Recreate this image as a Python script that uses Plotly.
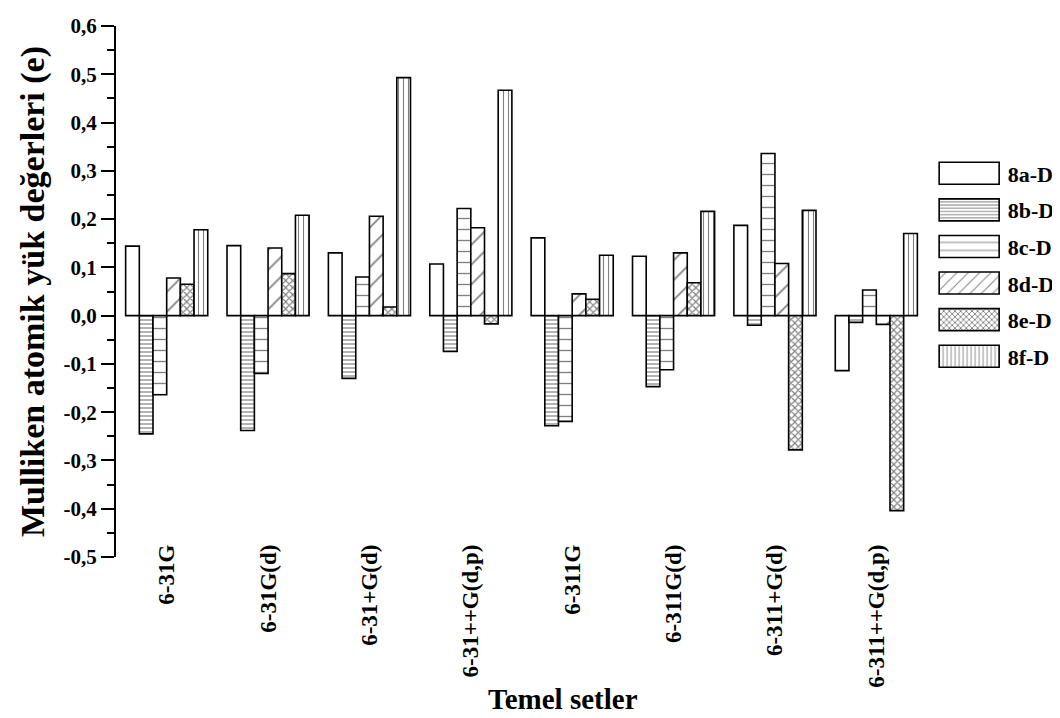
import plotly.graph_objects as go

categories = ["6-31G", "6-31G(d)", "6-31+G(d)", "6-31++G(d,p)",
              "6-311G", "6-311G(d)", "6-311+G(d)", "6-311++G(d,p)"]

series_names = ["8a-D", "8b-D", "8c-D", "8d-D", "8e-D", "8f-D"]

v8a = [0.144, 0.145, 0.130, 0.107, 0.161, 0.123, 0.187, -0.114]
v8b = [-0.245, -0.238, -0.130, -0.074, -0.228, -0.147, -0.020, -0.014]
v8c = [-0.164, -0.120, 0.080, 0.222, -0.219, -0.112, 0.336, 0.053]
v8d = [0.078, 0.140, 0.206, 0.182, 0.045, 0.130, 0.108, -0.018]
v8e = [0.065, 0.087, 0.018, -0.017, 0.034, 0.068, -0.278, -0.404]
v8f = [0.178, 0.208, 0.493, 0.467, 0.125, 0.216, 0.218, 0.170]

y_tick_vals = [-0.5, -0.4, -0.3, -0.2, -0.1, 0.0, 0.1, 0.2, 0.3, 0.4, 0.5, 0.6]
y_tick_text = ["-0,5", "-0,4", "-0,3", "-0,2", "-0,1", "0,0",
               "0,1", "0,2", "0,3", "0,4", "0,5", "0,6"]

y_title = "Mulliken atomik yük değerleri (e)"
x_title = "Temel setler"

series_values = [v8a, v8b, v8c, v8d, v8e, v8f]
patterns = [
    dict(shape=""),
    dict(shape="-", size=4, solidity=0.3, fgcolor="black", bgcolor="white"),
    dict(shape="-", size=11, solidity=0.12, fgcolor="black", bgcolor="white"),
    dict(shape="/", size=14, solidity=0.12, fgcolor="black", bgcolor="white"),
    dict(shape="x", size=5, solidity=0.4, fgcolor="black", bgcolor="white"),
    dict(shape="|", size=5, solidity=0.22, fgcolor="black", bgcolor="white"),
]

FONT = "Liberation Serif, Times New Roman, serif"
y_range = [-0.5, 0.6]
zero_pos = (0 - y_range[0]) / (y_range[1] - y_range[0])

fig = go.Figure()
for name, vals, pat in zip(series_names, series_values, patterns):
    fig.add_trace(go.Bar(
        x=categories, y=vals, name=name, legendgroup=name,
        marker=dict(color="white", line=dict(color="black", width=1.6),
                    pattern=pat),
    ))

fig.update_layout(
    width=1060, height=718,
    margin=dict(l=108, r=141, t=18, b=169, autoexpand=False),
    paper_bgcolor="white", plot_bgcolor="white",
    barmode="group", bargap=0.19, bargroupgap=0,
    font=dict(family=FONT, color="black", size=20, weight="bold"),
    showlegend=True,
    legend=dict(x=1.0045, xanchor="left", y=0.55, yanchor="middle",
                font=dict(family=FONT, size=22, weight="bold"),
                itemwidth=67, tracegroupgap=5, bgcolor="rgba(0,0,0,0)"),
    xaxis=dict(
        type="category", categoryarray=categories, range=[-0.5, 7.5],
        showline=False, ticks="", showgrid=False, zeroline=False,
        tickangle=-90, tickfont=dict(family=FONT, size=23, weight="bold"),
        ticklabelstandoff=-18,
        automargin=False,
    ),
    xaxis2=dict(
        overlaying="x", anchor="free", position=zero_pos, type="linear",
        range=[-0.5, 7.5], showline=True, linecolor="black", linewidth=2,
        ticks="outside", ticklen=11, tickwidth=2, tickcolor="black",
        tick0=0, dtick=1, showticklabels=False, showgrid=False, zeroline=False,
        minor=dict(ticks="outside", ticklen=6, tickwidth=2, tickcolor="black",
                   tick0=0.5, dtick=1, showgrid=False),
    ),
    yaxis=dict(
        range=y_range, tickvals=y_tick_vals, ticktext=y_tick_text,
        showline=True, linecolor="black", linewidth=2,
        ticks="outside", ticklen=13, tickwidth=2, tickcolor="black",
        minor=dict(ticks="outside", ticklen=7, tickwidth=2, tickcolor="black",
                   dtick=0.05, showgrid=False),
        showgrid=False, zeroline=False,
        tickfont=dict(family=FONT, size=21, weight="bold"),
        title=dict(text=y_title, font=dict(family=FONT, size=34, weight="bold"),
                   standoff=9),
        automargin=False,
    ),
    yaxis2=dict(
        overlaying="y", side="right", anchor="x", range=y_range,
        showline=True, linecolor="black", linewidth=2,
        ticks="inside", ticklen=12, tickwidth=2, tickcolor="black",
        tickvals=y_tick_vals, showticklabels=False,
        minor=dict(ticks="inside", ticklen=6, tickwidth=2, tickcolor="black",
                   dtick=0.05, showgrid=False),
        showgrid=False, zeroline=False,
    ),
    annotations=[dict(
        text=x_title, xref="paper", yref="paper", x=0.5512, y=-0.2665,
        xanchor="center", yanchor="middle", showarrow=False,
        font=dict(family=FONT, size=29, weight="bold", color="black"),
    )],
)

post = """
var gd = document.getElementById('{plot_id}');
function bigLegend(){
  gd.querySelectorAll('.legend .legendpoints path').forEach(function(p){
    p.setAttribute('d','M30,11H-30V-11H30Z');
  });
}
bigLegend();
gd.on('plotly_afterplot', bigLegend);
"""

fig.write_html("out.html", post_script=post)
